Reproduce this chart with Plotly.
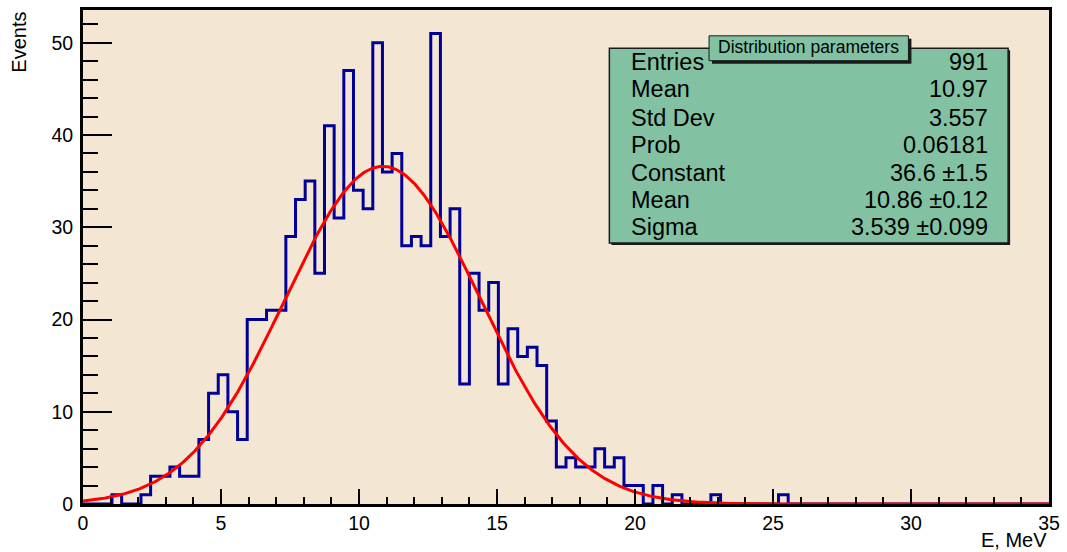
import numpy as np
import plotly.graph_objects as go

# ---- data ----
x_min, x_max, n_bins = 0.0, 35.0, 100
counts = [0, 0, 0, 1, 0, 0, 1, 3, 3, 4,
          3, 3, 7, 12, 14, 10, 7, 20, 20, 21,
          21, 29, 33, 35, 25, 41, 31, 47, 34, 32,
          50, 36, 38, 28, 29, 28, 51, 29, 32, 13,
          25, 21, 24, 13, 19, 16, 17, 15, 9, 4,
          5, 4, 4, 6, 4, 5, 2, 2, 0, 2,
          0, 1, 0, 0, 0, 1, 0, 0, 0, 0,
          0, 0, 1, 0, 0, 0, 0, 0, 0, 0,
          0, 0, 0, 0, 0, 0, 0, 0, 0, 0,
          0, 0, 0, 0, 0, 0, 0, 0, 0, 0]

# Gaussian fit parameters (from the stats box)
fit_constant = 36.6
fit_mean = 10.86
fit_sigma = 3.539

stat_labels = ["Entries", "Mean", "Std Dev", "Prob", "Constant", "Mean", "Sigma"]
stat_values = ["991", "10.97", "3.557", "0.06181", "36.6 ±1.5", "10.86 ±0.12", "3.539 ±0.099"]
stats_title = "Distribution parameters"

x_ticks = [0, 5, 10, 15, 20, 25, 30, 35]
y_ticks = [0, 10, 20, 30, 40, 50]

# ---- derived ----
edges = np.linspace(x_min, x_max, n_bins + 1)
step_x = list(edges[:-1]) + [edges[-1]]
step_y = list(counts) + [counts[-1]]
y_max = max(counts) * 1.05

xf = np.linspace(x_min, x_max, 600)
yf = fit_constant * np.exp(-0.5 * ((xf - fit_mean) / fit_sigma) ** 2)

FONT = "Liberation Sans, Arial, Helvetica, sans-serif"

fig = go.Figure()
fig.add_trace(go.Scatter(x=step_x, y=step_y, mode="lines",
                         line=dict(shape="hv", color="#000099", width=3),
                         hoverinfo="skip", showlegend=False))
fig.add_trace(go.Scatter(x=xf, y=yf, mode="lines",
                         line=dict(color="#ff0000", width=3),
                         hoverinfo="skip", showlegend=False))

# plot area in pixels
PX0, PX1, PY0, PY1 = 83, 1052, 7, 504


def px(x):
    return (x - PX0) / (PX1 - PX0)


def py(y):
    return (PY1 - y) / (PY1 - PY0)


shapes = []
# stats box shadow + box
shapes.append(dict(type="rect", xref="paper", yref="paper",
                   x0=px(613), x1=px(1013), y0=py(243.5), y1=py(47.5),
                   fillcolor="#1a1a1a", line=dict(width=0), layer="above"))
shapes.append(dict(type="rect", xref="paper", yref="paper",
                   x0=px(611), x1=px(1011), y0=py(241.5), y1=py(45.5),
                   fillcolor="#82c2a3", line=dict(color="#1a1a1a", width=1.5), layer="above"))
# title box shadow + box
shapes.append(dict(type="rect", xref="paper", yref="paper",
                   x0=px(714), x1=px(914), y0=py(61), y1=py(36),
                   fillcolor="#1a1a1a", line=dict(width=0), layer="above"))
shapes.append(dict(type="rect", xref="paper", yref="paper",
                   x0=px(711), x1=px(911), y0=py(58), y1=py(33),
                   fillcolor="#82c2a3", line=dict(color="#1a1a1a", width=1), layer="above"))

annotations = []
row_y = [60.7, 88.3, 116.7, 144.0, 172.7, 200.0, 226.7]
for lab, val, yy in zip(stat_labels, stat_values, row_y):
    annotations.append(dict(text=lab, xref="paper", yref="paper", x=px(631), y=py(yy - 1.5),
                            xanchor="left", yanchor="middle", showarrow=False,
                            font=dict(family=FONT, size=23.5, color="black")))
    annotations.append(dict(text=val, xref="paper", yref="paper", x=px(993), y=py(yy - 1.5),
                            xanchor="right", yanchor="middle", showarrow=False,
                            font=dict(family=FONT, size=23.5, color="black")))
annotations.append(dict(text=stats_title, xref="paper", yref="paper", x=px(811), y=py(44.5),
                        xanchor="center", yanchor="middle", showarrow=False,
                        font=dict(family=FONT, size=17.5, color="black")))
annotations.append(dict(text="E, MeV", xref="paper", yref="paper", x=px(1051), y=py(552),
                        xanchor="right", yanchor="bottom", borderpad=0, showarrow=False,
                        font=dict(family=FONT, size=20, color="black")))
annotations.append(dict(text="Events", xref="paper", yref="paper", x=px(18), y=py(7),
                        xanchor="center", yanchor="top", textangle=-90, showarrow=False,
                        font=dict(family=FONT, size=20, color="black")))

fig.update_layout(
    width=1067, height=552,
    margin=dict(l=PX0, r=1067 - PX1, t=PY0, b=552 - PY1, pad=0),
    paper_bgcolor="white",
    plot_bgcolor="#f3e6d2",
    shapes=shapes,
    annotations=annotations,
    font=dict(family=FONT, color="black"),
)
fig.update_xaxes(range=[x_min, x_max], tickvals=x_ticks, ticktext=[str(t) for t in x_ticks],
                 ticks="inside", ticklen=15, tickwidth=1.5, tickcolor="black",
                 minor=dict(dtick=1, ticks="inside", ticklen=7.5, tickwidth=1.5, tickcolor="black"),
                 showgrid=False, zeroline=False, showline=True, linewidth=3, linecolor="black",
                 mirror=True, tickfont=dict(family=FONT, size=19.5, color="black"),
                 ticklabelstandoff=0)
fig.update_yaxes(range=[0, y_max], tickvals=y_ticks, ticktext=[str(t) for t in y_ticks],
                 ticks="inside", ticklen=29, tickwidth=1.5, tickcolor="black",
                 minor=dict(dtick=2, ticks="inside", ticklen=14.5, tickwidth=1.5, tickcolor="black"),
                 showgrid=False, zeroline=False, showline=True, linewidth=3, linecolor="black",
                 mirror=True, tickfont=dict(family=FONT, size=19.5, color="black"),
                 ticklabelstandoff=3)

fig.write_html("out.html")
